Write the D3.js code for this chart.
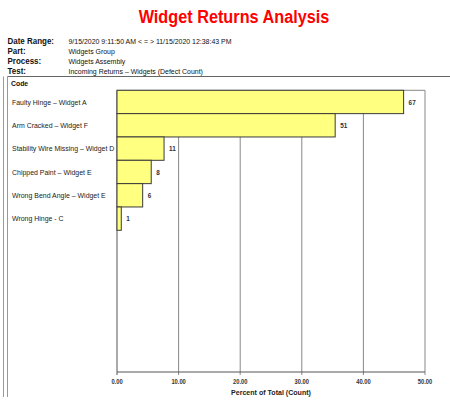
<!DOCTYPE html>
<html>
<head>
<meta charset="utf-8">
<script src="https://cdn.jsdelivr.net/npm/d3@7"></script>
<style>
  body { margin: 0; background: #fff; }
  text { font-family: Arial, "Liberation Sans", sans-serif; }
</style>
</head>
<body>
<div id="chart"></div>
<script>
const title = "Widget Returns Analysis";
const headerLabels = ["Date Range:", "Part:", "Process:", "Test:"];
const headerValues = [
    "9/15/2020 9:11:50 AM < = > 11/15/2020 12:38:43 PM",
    "Widgets Group",
    "Widgets Assembly",
    "Incoming Returns \u2013 Widgets (Defect Count)"
];
const categories = [
    "Faulty Hinge \u2013 Widget A",
    "Arm Cracked \u2013 Widget F",
    "Stability Wire Missing \u2013 Widget D",
    "Chipped Paint \u2013 Widget E",
    "Wrong Bend Angle \u2013 Widget E",
    "Wrong Hinge - C"
];
const counts = [67, 51, 11, 8, 6, 1];
const xTicks = [0, 10, 20, 30, 40, 50];
const xTitle = "Percent of Total (Count)";

const width = 450, height = 406;
const plot = { left: 117, right: 425, top: 90.3, bottom: 372 };
const barsBottom = 230.3;

// the source text is a little squeezed sideways
const squeeze = 0.88;
const place = (px, py, sx) => 'translate(' + px + ',' + py + ') scale(' + sx + ',1)';

const total = d3.sum(counts);
const percents = counts.map(c => c / total * 100);

const svg = d3.select('#chart')
        .append('svg')
        .attr('width', width)
        .attr('height', height);

// title
svg.append('text')
    .attr('transform', place(234, 23, 0.93))
    .attr('text-anchor', 'middle')
    .style('font-size', '17.5px')
    .style('font-weight', 'bold')
    .style('fill', '#ff0000')
    .text(title);

// header block
const header = svg.append('g');
headerLabels.forEach((d, i) => {
    header.append('text')
        .attr('transform', place(7.5, 43.5 + i * 10, 0.95))
        .style('font-size', '8.4px')
        .style('font-weight', 'bold')
        .style('fill', '#111')
        .text(d);
    header.append('text')
        .attr('transform', place(68.5, 43.5 + i * 10, squeeze))
        .style('font-size', '7.9px')
        .style('fill', '#111')
        .text(headerValues[i]);
});

// frame round the chart body
svg.append('line')
    .attr('x1', 7.5).attr('x2', width)
    .attr('y1', 76.5).attr('y2', 76.5)
    .attr('stroke', '#666');
[3.5, 7.5].forEach(x => {
    svg.append('line')
        .attr('x1', x).attr('x2', x)
        .attr('y1', 76.5).attr('y2', 397)
        .attr('stroke', '#999');
});

svg.append('text')
    .attr('transform', place(11, 85.5, squeeze))
    .style('font-size', '7.8px')
    .style('font-weight', 'bold')
    .style('fill', '#111')
    .text('Code');

const x = d3.scaleLinear()
        .domain([0, 50])
        .range([plot.left, plot.right]);

const y = d3.scaleBand()
        .domain(categories)
        .range([plot.top, barsBottom])
        .padding(0);

// grid lines
svg.append('g')
    .selectAll('line')
    .data(xTicks)
    .enter()
    .append('line')
    .attr('x1', d => x(d)).attr('x2', d => x(d))
    .attr('y1', plot.top).attr('y2', plot.bottom + 3)
    .attr('stroke', d => d === 0 ? '#555' : '#888')
    .style('stroke-width', '1');

svg.append('line')
    .attr('x1', plot.left).attr('x2', plot.right)
    .attr('y1', plot.top).attr('y2', plot.top)
    .attr('stroke', '#888');

svg.append('line')
    .attr('x1', plot.left).attr('x2', plot.right)
    .attr('y1', plot.bottom).attr('y2', plot.bottom)
    .attr('stroke', '#555');

// bars
svg.append('g')
    .selectAll('rect')
    .data(percents)
    .enter()
    .append('rect')
    .attr('x', x(0))
    .attr('y', (d, i) => y(categories[i]))
    .attr('width', d => x(d) - x(0))
    .attr('height', y.bandwidth())
    .style('fill', '#ffff80')
    .attr('stroke', '#3a3a3a')
    .style('stroke-width', '1');

// value labels
svg.append('g')
    .selectAll('text')
    .data(counts)
    .enter()
    .append('text')
    .attr('transform', (d, i) => place(x(percents[i]) + 5, y(categories[i]) + y.bandwidth() / 2 + 2.6, squeeze))
    .style('font-size', '7.2px')
    .style('font-weight', 'bold')
    .style('fill', '#2b2f3a')
    .text(d => d);

// category labels
svg.append('g')
    .selectAll('text')
    .data(categories)
    .enter()
    .append('text')
    .attr('transform', d => place(12, y(d) + y.bandwidth() / 2 + 2.8, squeeze))
    .style('font-size', '7.9px')
    .style('fill', '#222')
    .text(d => d);

// x tick labels
svg.append('g')
    .selectAll('text')
    .data(xTicks)
    .enter()
    .append('text')
    .attr('transform', d => place(x(d), 383.8, 0.85))
    .attr('text-anchor', 'middle')
    .style('font-size', '6.8px')
    .style('font-weight', 'bold')
    .style('fill', '#333')
    .text(d => d3.format('.2f')(d));

svg.append('text')
    .attr('transform', place((plot.left + plot.right) / 2, 394.8, 0.92))
    .attr('text-anchor', 'middle')
    .style('font-size', '7.7px')
    .style('font-weight', 'bold')
    .style('fill', '#222')
    .text(xTitle);
</script>
</body>
</html>
